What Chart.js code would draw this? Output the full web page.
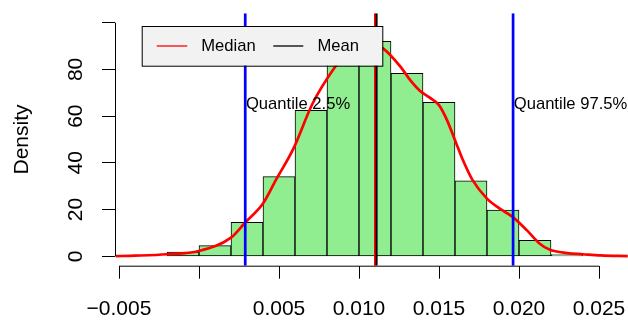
<!DOCTYPE html>
<html>
<head>
<meta charset="utf-8">
<script src="https://cdn.jsdelivr.net/npm/chart.js@4.4.0/dist/chart.umd.min.js"></script>
<style>
html,body{margin:0;padding:0;background:#fff;}
</style>
</head>
<body>
<canvas id="hist" width="628" height="320"></canvas>
<script>
// histogram (density scale), bins of width 0.002
const binMids = [-0.001, 0.001, 0.003, 0.005, 0.007, 0.009, 0.011, 0.013, 0.015, 0.017, 0.019, 0.021, 0.023];
const binDens = [1.8, 4.6, 14.6, 34.1, 62.5, 88, 92, 78.3, 65.9, 32.3, 19.8, 6.9, 0.8];

// kernel density estimate
const densX = [-0.0052, -0.004, -0.002, 0, 0.002, 0.0029, 0.004, 0.0048, 0.0059, 0.0071, 0.0085, 0.0094, 0.0102, 0.0108, 0.0115,
  0.0126, 0.0132, 0.0138, 0.0144, 0.0150, 0.0155, 0.0160, 0.0165, 0.0171, 0.0180, 0.0188, 0.0196, 0.0205, 0.0213, 0.0219,
  0.0230, 0.0240, 0.0251, 0.0268];
const densY = [0.1, 0.3, 0.9, 2.3, 8.0, 14.6, 22.6, 32.6, 46.1, 65.4, 81.0, 88.5, 91.3, 91.0, 89.0,
  81.1, 75.4, 70.9, 68.0, 64.7, 58.3, 49.7, 41.1, 32.6, 24.7, 20.4, 16.9, 11.1, 5.4, 2.9,
  1.4, 0.9, 0.4, 0.1];

const q025 = 0.00289, q975 = 0.01963;
const medianVal = 0.0110, meanVal = 0.0111;

const xTicks = [-0.005, 0, 0.005, 0.010, 0.015, 0.020, 0.025];
const xTickLabels = ['\u22120.005', '', '0.005', '0.010', '0.015', '0.020', '0.025'];
const yTicks = [0, 20, 40, 60, 80, 100];
const yTickLabels = ['0', '20', '40', '60', '80', ''];

const FONT = '"Liberation Sans", Arial, Helvetica, sans-serif';

const vline = (v) => [{x: v, y: -4}, {x: v, y: 104}];

// base-R look: short axis lines, rotated y labels, text() and legend()
const rDecor = {
  id: 'rDecor',
  afterDatasetsDraw(chart) {
    const {ctx, chartArea, scales: {x, y}} = chart;
    ctx.save();
    ctx.strokeStyle = '#000';
    ctx.lineWidth = 1;
    ctx.beginPath();
    ctx.moveTo(x.getPixelForValue(xTicks[0]), chartArea.bottom + 0.5);
    ctx.lineTo(x.getPixelForValue(xTicks[xTicks.length - 1]), chartArea.bottom + 0.5);
    ctx.moveTo(chartArea.left + 0.5, y.getPixelForValue(yTicks[0]));
    ctx.lineTo(chartArea.left + 0.5, y.getPixelForValue(yTicks[yTicks.length - 1]));
    ctx.stroke();

    ctx.fillStyle = '#000';
    ctx.font = '21px ' + FONT;
    ctx.textAlign = 'center';
    ctx.textBaseline = 'middle';
    yTicks.forEach((v, i) => {
      ctx.save();
      ctx.translate(chartArea.left - 39, y.getPixelForValue(v));
      ctx.rotate(-Math.PI / 2);
      ctx.fillText(yTickLabels[i], 0, 0);
      ctx.restore();
    });

    ctx.font = '16.6px ' + FONT;
    ctx.textAlign = 'left';
    ctx.fillText('Quantile 2.5%', x.getPixelForValue(q025) + 0.7, y.getPixelForValue(65));
    ctx.fillText('Quantile 97.5%', x.getPixelForValue(q975) + 0.7, y.getPixelForValue(65));

    // legend box
    const lx = chartArea.left + 26.7, ly = chartArea.top + 12.7, lw = 240.6, lh = 39.7;
    ctx.fillStyle = '#f2f2f2';
    ctx.fillRect(lx, ly, lw, lh);
    ctx.strokeRect(lx + 0.5, ly + 0.5, lw, lh);
    const my = ly + 20;
    ctx.lineWidth = 1.3;
    ctx.strokeStyle = '#ff0000';
    ctx.beginPath(); ctx.moveTo(lx + 15, my); ctx.lineTo(lx + 45.6, my); ctx.stroke();
    ctx.strokeStyle = '#000';
    ctx.beginPath(); ctx.moveTo(lx + 131.6, my); ctx.lineTo(lx + 161.6, my); ctx.stroke();
    ctx.fillStyle = '#000';
    ctx.fillText('Median', lx + 59.5, my + 0.5);
    ctx.fillText('Mean', lx + 175.8, my + 0.5);
    ctx.restore();
  }
};

new Chart(document.getElementById('hist'), {
  type: 'scatter',
  data: {
    datasets: [
      {
        type: 'bar',
        data: binMids.map((m, i) => ({x: m, y: binDens[i]})),
        backgroundColor: '#90ee90',
        borderColor: '#000',
        borderWidth: 1,
        borderSkipped: false,
        barPercentage: 1,
        categoryPercentage: 1,
        order: 6
      },
      {
        type: 'line',
        data: densX.map((v, i) => ({x: v, y: densY[i]})),
        borderColor: '#ff0000',
        borderWidth: 2.7,
        pointRadius: 0,
        cubicInterpolationMode: 'monotone',
        fill: false,
        order: 5
      },
      {type: 'line', data: vline(q025), borderColor: '#0000ff', borderWidth: 2.7, pointRadius: 0, clip: 0, order: 4},
      {type: 'line', data: vline(q975), borderColor: '#0000ff', borderWidth: 2.7, pointRadius: 0, clip: 0, order: 4},
      {type: 'line', data: vline(medianVal), borderColor: '#ff0000', borderWidth: 2, pointRadius: 0, clip: 0, order: 3},
      {type: 'line', data: vline(meanVal), borderColor: '#000000', borderWidth: 2, pointRadius: 0, clip: 0, order: 2}
    ]
  },
  options: {
    responsive: false,
    animation: false,
    devicePixelRatio: 1,
    layout: {padding: {top: 13.3, right: 0, left: 0, bottom: 0}},
    plugins: {legend: {display: false}, tooltip: {enabled: false}},
    scales: {
      x: {
        type: 'linear',
        min: -0.00525,
        max: 0.0268125,
        offset: false,
        afterBuildTicks: (s) => { s.ticks = xTicks.map(v => ({value: v})); },
        afterFit: (s) => { s.height = 54.3; s.paddingLeft = 0; s.paddingRight = 0; },
        grid: {display: true, drawOnChartArea: false, drawTicks: true, tickLength: 13, color: '#000', offset: false},
        border: {display: false},
        ticks: {
          autoSkip: false, maxRotation: 0, minRotation: 0, padding: 18,
          color: '#000', font: {family: FONT, size: 21},
          callback: (v, i) => xTickLabels[i]
        }
      },
      y: {
        type: 'linear',
        min: -4,
        max: 104,
        afterBuildTicks: (s) => { s.ticks = yTicks.map(v => ({value: v})); },
        afterFit: (s) => { s.width = 115; s.paddingTop = 0; s.paddingBottom = 0; },
        grid: {display: true, drawOnChartArea: false, drawTicks: true, tickLength: 13, color: '#000'},
        border: {display: false},
        ticks: {display: false},
        title: {display: true, text: 'Density', color: '#000', font: {family: FONT, size: 21}, padding: {top: 10, bottom: 0}}
      }
    }
  },
  plugins: [rDecor]
});
</script>
</body>
</html>
